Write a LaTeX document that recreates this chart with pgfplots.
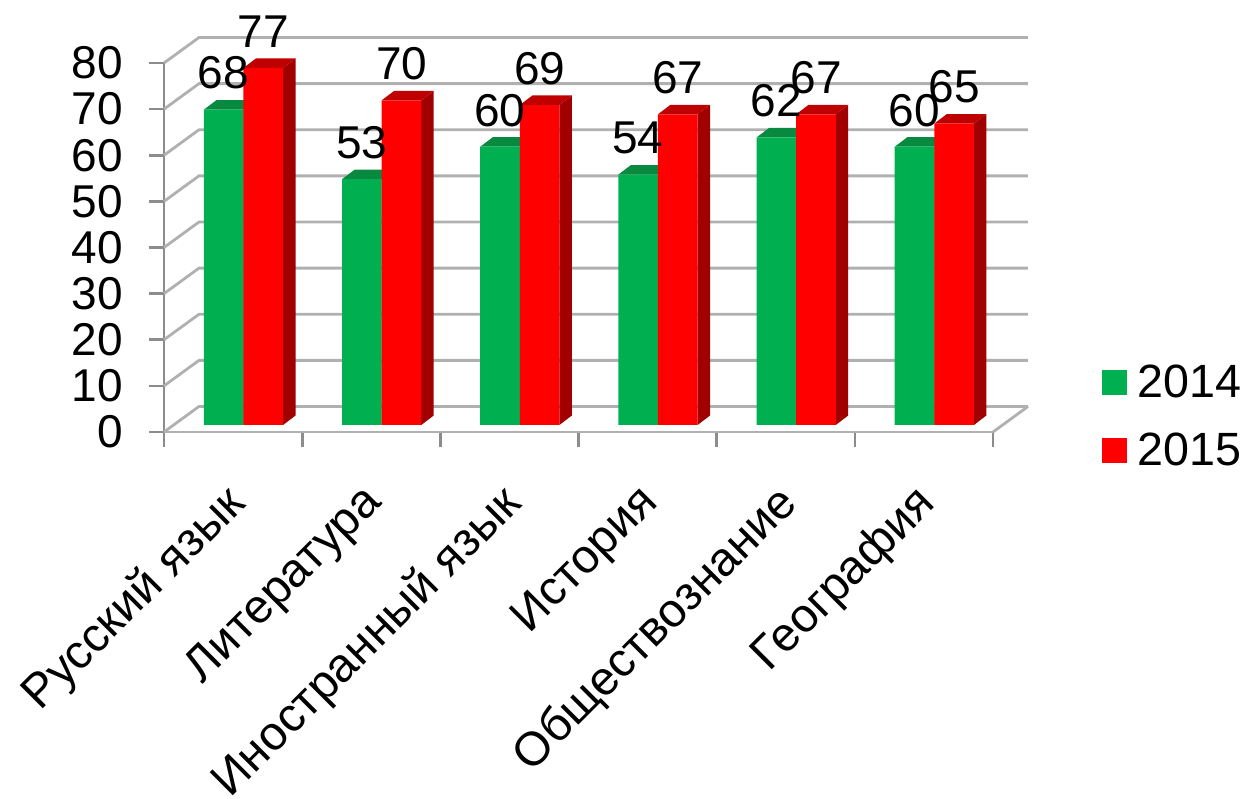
\documentclass[border=0pt]{standalone}
\usepackage{pgfplots}
\usepackage{pgfplotstable}
\usepackage{fontspec}
\setmainfont{Liberation Sans}
\pgfplotsset{compat=1.18}
\definecolor{gr}{HTML}{00B050}
\definecolor{grt}{HTML}{078A3F}
\definecolor{rd}{HTML}{FF0000}
\definecolor{rdt}{HTML}{BE0000}
\definecolor{rds}{HTML}{A00000}
\definecolor{gridc}{HTML}{B0B0B0}
\definecolor{axc}{HTML}{8C8C8C}
\newcommand\bigf{\fontsize{34.5}{40}\selectfont}
\newcommand\catf{\fontsize{35.6}{42}\selectfont}
\pgfplotstableread{
x v14 v15
0.5 68 77
1.5 53 70
2.5 60 69
3.5 54 67
4.5 62 67
5.5 60 65
}\scores
% top face and side face of one bar: #1 group centre, #2 value, #3 offset of the left edge, #4 top colour, #5 side colour
\newcommand\barDepth[5]{%
  \pgfmathsetmacro\xa{#1+#3}%
  \pgfmathsetmacro\xb{#1+#3+0.2865}%
  \pgfmathsetmacro\xc{#1+#3+0.2865+0.0905}%
  \pgfmathsetmacro\xd{#1+#3+0.0905}%
  \pgfmathsetmacro\yb{#2+2.05}%
  \addplot[forget plot,fill=#5,draw=none] coordinates {(\xb,0)(\xb,#2)(\xc,\yb)(\xc,2.05)} --cycle;
  \addplot[forget plot,fill=#4,draw=none] coordinates {(\xa,#2)(\xb,#2)(\xc,\yb)(\xd,\yb)} --cycle;
}
\begin{document}
\begin{tikzpicture}
\path[use as bounding box] (0,0) rectangle (937.5pt,599.25pt);
\begin{axis}[
  at={(123pt,275.25pt)},anchor=south west,
  scale only axis,width=621.75pt,height=276.75pt,
  xmin=0,xmax=6,ymin=0,ymax=80,clip=false,
  axis x line=bottom,axis y line=left,axis line style={-,draw=gridc,line width=2.1pt},
  y axis line style={draw=axc},
  xtick={0,1,2,3,4,5,6},
  xticklabels={Русский язык,Литература,Иностранный язык,История,Обществознание,География},
  x tick label as interval,
  ytick={0,10,...,80},
  tick align=outside,
  major tick length=11pt,
  tick style={draw=axc,line width=2pt},
  minor tick num=0,
  /pgf/number format/assume math mode=true,
  yticklabel style={font=\bigf,inner sep=0pt,xshift=-19.5pt},
  xticklabel style={font=\catf,rotate=45,anchor=north east,inner sep=0pt,yshift=-12pt,xshift=-23.8pt},
  no markers,
]
\pgfplotsinvokeforeach{0,10,...,80}{
  \pgfmathsetmacro\yy{#1+5.53}
  \addplot[gridc,line width=2.1pt] coordinates {(0,#1)(0.2533,\yy)(6.2533,\yy)};
}
\addplot[gridc,line width=2.1pt] coordinates {(6.2533,5.53)(6,0)};
\end{axis}
\begin{axis}[
  at={(130.8pt,280.5pt)},anchor=south west,
  scale only axis,width=621.75pt,height=278.25pt,
  xmin=0,xmax=6,ymin=0,ymax=80,clip=false,
  axis lines=none,no markers,
  /pgf/number format/assume math mode=true,
  legend style={at={(1.119,0.162)},anchor=north west,draw=none,fill=none,inner sep=0pt,
    font=\fontsize{35}{40}\selectfont,row sep=25.2pt,nodes={inner sep=0pt},/tikz/every odd column/.style={column sep=8pt}},
  legend cell align=left,
  legend image code/.code={\fill[#1] (0pt,-9.4pt) rectangle (18.75pt,9.4pt);},
]
\barDepth{0.5}{68}{-0.2865}{grt}{grt}
\barDepth{1.5}{53}{-0.2865}{grt}{grt}
\barDepth{2.5}{60}{-0.2865}{grt}{grt}
\barDepth{3.5}{54}{-0.2865}{grt}{grt}
\barDepth{4.5}{62}{-0.2865}{grt}{grt}
\barDepth{5.5}{60}{-0.2865}{grt}{grt}
\addplot[ybar,bar width=29.7pt,bar shift=-14.85pt,fill=gr,draw=none] table[x=x,y=v14]{\scores};
\addlegendentry{2014}
\barDepth{0.5}{77}{0}{rdt}{rds}
\barDepth{1.5}{70}{0}{rdt}{rds}
\barDepth{2.5}{69}{0}{rdt}{rds}
\barDepth{3.5}{67}{0}{rdt}{rds}
\barDepth{4.5}{67}{0}{rdt}{rds}
\barDepth{5.5}{65}{0}{rdt}{rds}
\addplot[ybar,bar width=29.7pt,bar shift=14.85pt,fill=rd,draw=none] table[x=x,y=v15]{\scores};
\addlegendentry{2015}
\addplot[forget plot,draw=none,nodes near coords,point meta=y,
  every node near coord/.append style={font=\bigf,inner sep=0pt,anchor=south,xshift=-15pt,yshift=15pt}] table[x=x,y=v14]{\scores};
\addplot[forget plot,draw=none,nodes near coords,point meta=y,
  every node near coord/.append style={font=\bigf,inner sep=0pt,anchor=south,xshift=15pt,yshift=15pt}] table[x=x,y=v15]{\scores};
\end{axis}
\end{tikzpicture}
\end{document}
